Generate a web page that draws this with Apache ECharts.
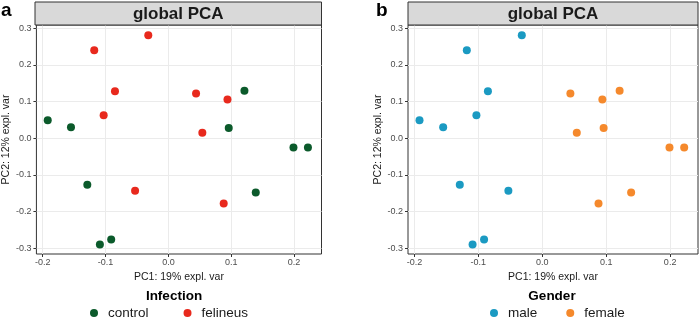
<!DOCTYPE html>
<html>
<head>
<meta charset="utf-8">
<title>global PCA</title>
<script src="https://cdn.jsdelivr.net/npm/echarts@6/dist/echarts.min.js"></script>
<style>
  html, body { margin: 0; padding: 0; background: #fff; }
  #chart { width: 700px; height: 320px; }
</style>
</head>
<body>
<div id="chart"></div>
<script>
// PCA scores per sample
const samplePC1 = [-0.192, -0.155, 0.121, 0.096, 0.199, 0.222, -0.129, 0.139, -0.109, -0.091,
                   -0.118, -0.032, -0.085, -0.103, 0.044, 0.094, 0.054, -0.053, 0.088];
const samplePC2 = [0.049, 0.030, 0.130, 0.028, -0.025, -0.025, -0.127, -0.148, -0.290, -0.276,
                   0.240, 0.281, 0.128, 0.063, 0.122, 0.106, 0.015, -0.143, -0.178];
const sampleInfection = ['control', 'control', 'control', 'control', 'control', 'control', 'control', 'control', 'control', 'control',
                         'felineus', 'felineus', 'felineus', 'felineus', 'felineus', 'felineus', 'felineus', 'felineus', 'felineus'];
const sampleGender = ['male', 'male', 'female', 'female', 'female', 'female', 'male', 'female', 'male', 'male',
                      'male', 'male', 'male', 'male', 'female', 'female', 'female', 'male', 'female'];

const infectionGroups = ['control', 'felineus'];
const genderGroups = ['male', 'female'];
const xTicks = [-0.2, -0.1, 0, 0.1, 0.2];
const yTicks = [-0.3, -0.2, -0.1, 0, 0.1, 0.2, 0.3];

const groupColors = {
  control: '#0b5a2b',
  felineus: '#e8291d',
  male: '#1b9ac2',
  female: '#f5892c'
};

const FONT = "'Liberation Sans', Arial, sans-serif";

// pick the points of one group
function pointsFor(labels, group) {
  const pts = [];
  for (let i = 0; i < labels.length; i++) {
    if (labels[i] === group) pts.push([samplePC1[i], samplePC2[i]]);
  }
  return pts;
}

function makeXAxis(gridIndex) {
  return {
    type: 'value',
    gridIndex: gridIndex,
    min: -0.21,
    max: 0.2436,
    name: 'PC1: 19% expl. var',
    nameLocation: 'middle',
    nameGap: 18,
    nameTextStyle: { fontSize: 10.5, color: '#1a1a1a', fontFamily: FONT },
    axisLine: { show: false, onZero: false },
    axisTick: { show: true, customValues: xTicks, length: 3, lineStyle: { color: '#333' } },
    axisLabel: {
      customValues: xTicks, margin: 4, fontSize: 9, color: '#4d4d4d', fontFamily: FONT,
      formatter: v => v.toFixed(1)
    },
    splitLine: { show: true, lineStyle: { color: '#ebebeb', width: 1 } }
  };
}

function makeYAxis(gridIndex) {
  return {
    type: 'value',
    gridIndex: gridIndex,
    min: -0.3156,
    max: 0.309,
    name: 'PC2: 12% expl. var',
    nameLocation: 'middle',
    nameGap: 24,
    nameTextStyle: { fontSize: 10.5, color: '#1a1a1a', fontFamily: FONT },
    axisLine: { show: false, onZero: false },
    axisTick: { show: true, customValues: yTicks, length: 3, lineStyle: { color: '#333' } },
    axisLabel: {
      customValues: yTicks, margin: 5, fontSize: 9, color: '#4d4d4d', fontFamily: FONT,
      formatter: v => v.toFixed(1)
    },
    splitLine: { show: true, lineStyle: { color: '#ebebeb', width: 1 } }
  };
}

function makeSeries(groups, labels, axisIndex) {
  return groups.map(g => ({
    name: g,
    type: 'scatter',
    xAxisIndex: axisIndex,
    yAxisIndex: axisIndex,
    data: pointsFor(labels, g),
    symbol: 'circle',
    symbolSize: 8,
    itemStyle: { color: groupColors[g], opacity: 1 },
    emphasis: { disabled: true }
  }));
}

// strip on top of a panel + the panel letter
function stripGraphics(x, width, letter, letterX) {
  return [
    {
      type: 'rect',
      shape: { x: x, y: 2, width: width, height: 23 },
      style: { fill: '#d9d9d9', stroke: '#333', lineWidth: 1 },
      z: 10
    },
    {
      type: 'text',
      x: x + width / 2,
      y: 14,
      style: { text: 'global PCA', font: 'bold 17px ' + FONT, fill: '#1a1a1a', align: 'center', verticalAlign: 'middle' },
      z: 11
    },
    {
      type: 'text',
      x: letterX,
      y: 11,
      style: { text: letter, font: 'bold 19px ' + FONT, fill: '#000', align: 'left', verticalAlign: 'middle' },
      z: 11
    }
  ];
}

const chartDom = document.getElementById('chart');
const myChart = echarts.init(chartDom);

const option = {
  animation: false,
  backgroundColor: '#fff',
  grid: [
    { left: 35, top: 25, width: 286.5, height: 229, show: true, borderColor: '#333', borderWidth: 1, backgroundColor: '#fff' },
    { left: 408, top: 25, width: 290, height: 229, show: true, borderColor: '#333', borderWidth: 1, backgroundColor: '#fff' }
  ],
  xAxis: [makeXAxis(0), makeXAxis(1)],
  yAxis: [makeYAxis(0), makeYAxis(1)],
  legend: [
    {
      data: infectionGroups,
      left: 90, top: 306,
      padding: 0,
      itemWidth: 18, itemHeight: 8, itemGap: 35,
      icon: 'circle',
      selectedMode: false,
      textStyle: { fontSize: 13.5, color: '#1a1a1a', fontFamily: FONT }
    },
    {
      data: genderGroups,
      left: 490, top: 306,
      padding: 0,
      itemWidth: 18, itemHeight: 8, itemGap: 29,
      icon: 'circle',
      selectedMode: false,
      textStyle: { fontSize: 13.5, color: '#1a1a1a', fontFamily: FONT }
    }
  ],
  graphic: [
    ...stripGraphics(35, 286.5, 'a', 1),
    ...stripGraphics(408, 290, 'b', 376),
    {
      type: 'text', x: 174, y: 296,
      style: { text: 'Infection', font: 'bold 13.5px ' + FONT, fill: '#000', align: 'center', verticalAlign: 'middle' }
    },
    {
      type: 'text', x: 552, y: 296,
      style: { text: 'Gender', font: 'bold 13.5px ' + FONT, fill: '#000', align: 'center', verticalAlign: 'middle' }
    }
  ],
  series: [
    ...makeSeries(infectionGroups, sampleInfection, 0),
    ...makeSeries(genderGroups, sampleGender, 1)
  ]
};

myChart.setOption(option);
window.addEventListener('resize', function() {
  myChart.resize();
});
</script>
</body>
</html>
